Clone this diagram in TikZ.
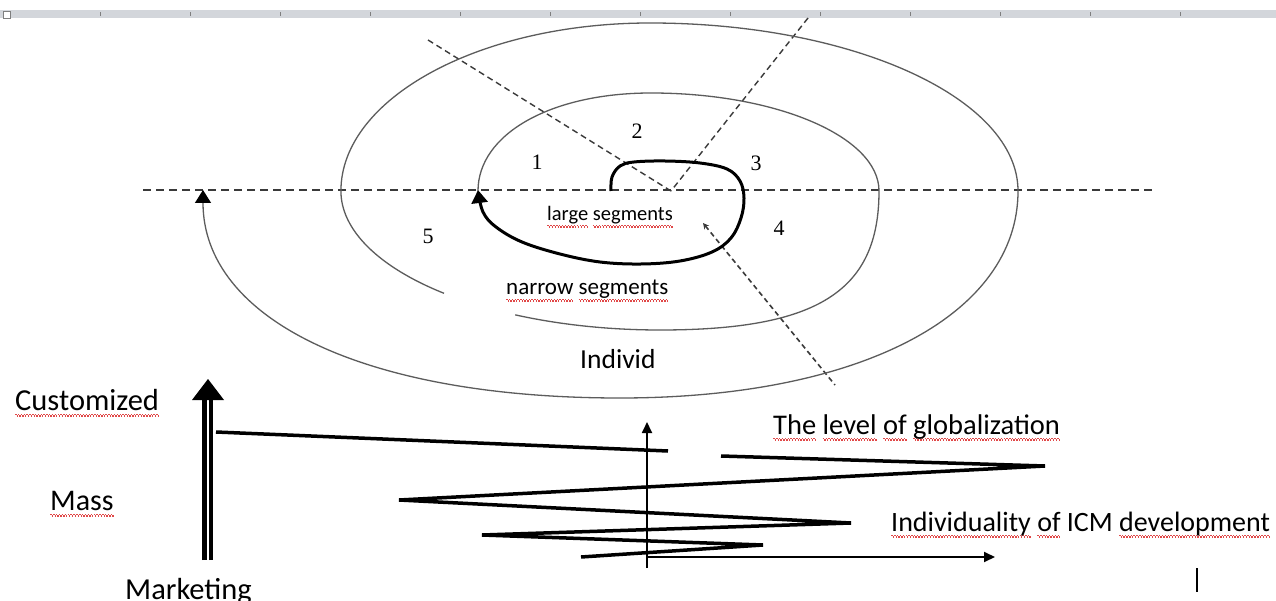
\documentclass[tikz,border=0pt]{standalone}
\usepackage{fontspec}
\usetikzlibrary{arrows.meta}
\newfontfamily\carl{Carlito}
\newfontfamily\tms{Liberation Serif}
\definecolor{ringgray}{HTML}{5C5C5C}
\definecolor{dashgray}{HTML}{3A3A3A}
\definecolor{sqred}{HTML}{E04848}
\definecolor{barfill}{HTML}{D3D6DB}
\definecolor{tickgray}{HTML}{7F7F7F}
\newcommand\rw[1]{\leavevmode\setbox0\hbox{#1}\rlap{\hbox to\wd0{\color{sqred}\xleaders\hbox{\vrule height -4pt depth 5.3pt width 1.4pt\vrule height -5.3pt depth 6.6pt width 1.4pt}\hfill}}\box0\relax}
\begin{document}
\begin{tikzpicture}[x=1pt,y=-1pt,
  ring/.style={draw=ringgray,line width=1.3pt},
  boldline/.style={draw=black,line width=3pt},
  dashline/.style={draw=dashgray,line width=1.4pt,dash pattern=on 8pt off 5pt},
  dashshort/.style={draw=dashgray,line width=1.6pt,dash pattern=on 5pt off 3.5pt},
  zig/.style={draw=black,line width=3.5pt},
  axisline/.style={draw=black,line width=1.8pt,-{Triangle[length=11pt,width=10pt]}},
  lbl/.style={inner sep=0pt,anchor=base west},
  num/.style={inner sep=0pt,font=\tms\fontsize{22}{26}\selectfont},
  tip/.style={-{Triangle[length=13pt,width=16pt,color=black]}}
]
\useasboundingbox (0,0) rectangle (1276,601);
\fill[white] (0,0) rectangle (1276,601);
% top ruler bar
\fill[barfill] (0,10) rectangle (1276,18.5);
\foreach \t in {100,190,...,1180} \draw[tickgray,line width=1pt] (\t,12.5) -- (\t,16);
\draw[tickgray,fill=white,line width=0.8pt] (3,11.5) rectangle (10,18);
% dashed guide lines
\coordinate (c) at (671,191);
\coordinate (hl) at (143,190);
\coordinate (hr) at (1155,190);
\coordinate (d1) at (428,40);
\coordinate (d2) at (808,18);
\coordinate (d3a) at (703,223);
\coordinate (d3b) at (835,385);
\draw[dashline] (hl) -- (hr);
\draw[dashline,dash pattern=on 6pt off 4pt] (d1) -- (c);
\draw[dashline,dash pattern=on 6pt off 4pt] (d2) -- (c);
\draw[dashshort,{Stealth[length=6pt,width=6pt,open]}-] (d3a) -- (d3b);
% inner bold spiral
\draw[boldline,tip] plot[smooth,tension=0.6] coordinates {(611,191) (612,177) (620,166) (634,162) (665,161) (700,163) (727,169) (740,181) (744,198) (741,218) (731,238) (712,252) (680,261) (641,264) (600,262) (560,254) (522,242) (496,227) (483,212) (478,190)};
% middle ring: from the inner arrow, clockwise, to the gap
\coordinate (ma) at (478,191);
\coordinate (mt) at (651,93);
\coordinate (mr) at (879,191);
\coordinate (mb) at (660,330);
\draw[ring] (ma) .. controls (478,134) and (551,93) .. (mt)
  .. controls (777,93) and (879,137) .. (mr)
  .. controls (879,291) and (818,330) .. (mb)
  arc[start angle=90,end angle=117,x radius=319,y radius=139];
% outer ring: from the gap, clockwise, to the outer arrow
\coordinate (og) at (444,293.3);
\coordinate (ol) at (341,191);
\coordinate (ot) at (650,23);
\coordinate (or) at (1018,191);
\coordinate (ob) at (620,398);
\coordinate (oa) at (203,190);
\draw[ring,tip] (og) arc[start angle=132.6,end angle=180,x radius=319,y radius=139]
  .. controls (341,98.3) and (479.4,23) .. (ot)
  .. controls (853,23) and (1018,98.3) .. (or)
  .. controls (1018,315) and (860,398) .. (ob)
  .. controls (361,398) and (203,318) .. (oa);
% numbers
\node[num] (n1) at (537,162) {1};
\node[num] (n2) at (637,131) {2};
\node[num] (n3) at (756,163) {3};
\node[num] (n4) at (779,228) {4};
\node[num] (n5) at (428,236) {5};
% labels in spiral
\node[lbl,font=\carl\fontsize{20.5}{24}\selectfont] (large) at (547,221) {\rw{large} \rw{segments}};
\node[lbl,font=\carl\fontsize{23}{27}\selectfont] (narrow) at (506,295) {\rw{narrow} \rw{segments}};
\node[lbl,font=\carl\fontsize{27.5}{32}\selectfont] (indiv) at (580,368) {Individ};
% left double arrow
\draw[black,line width=5pt] (204.5,560) -- (204.5,400);
\draw[black,line width=4pt] (211,560) -- (211,400);
\fill[black] (192,400) -- (224,400) -- (208,379) -- cycle;
\node[lbl,font=\carl\fontsize{30.5}{36}\selectfont] (cust) at (15,410) {\rw{Customized}};
\node[lbl,font=\carl\fontsize{30}{36}\selectfont] (mass) at (50,510) {\rw{Mass}};
\node[lbl,font=\carl\fontsize{30.5}{36}\selectfont] (mark) at (125,599) {Marketing};
% axes
\coordinate (o) at (647,557);
\coordinate (ytop) at (647,422);
\coordinate (ybot) at (647,568);
\coordinate (xr) at (995,557);
\draw[axisline] (ybot) -- (ytop);
\draw[axisline] (o) -- (xr);
% zigzag
\coordinate (z0) at (216,432);
\coordinate (z1) at (668,451);
\coordinate (z2) at (721,456);
\coordinate (z3) at (1045,466);
\coordinate (z4) at (399,500);
\coordinate (z5) at (851,523);
\coordinate (z6) at (482,535);
\coordinate (z7) at (763,545);
\coordinate (z8) at (581,557);
\draw[zig] (z0) -- (z1);
\draw[zig] (z2) -- (z3) -- (z4) -- (z5) -- (z6) -- (z7) -- (z8);
\node[lbl,font=\carl\fontsize{28.5}{33}\selectfont] (glob) at (773,434) {\rw{The} \rw{level} \rw{of} \rw{globalization}};
\node[lbl,font=\carl\fontsize{28}{33}\selectfont] (icm) at (891,531) {\rw{Individuality} \rw{of} ICM \rw{development}};
% cursor bar
\coordinate (cur1) at (1197,568);
\coordinate (cur2) at (1197,592);
\draw[black,line width=2.5pt] (cur1) -- (cur2);
\end{tikzpicture}
\end{document}
